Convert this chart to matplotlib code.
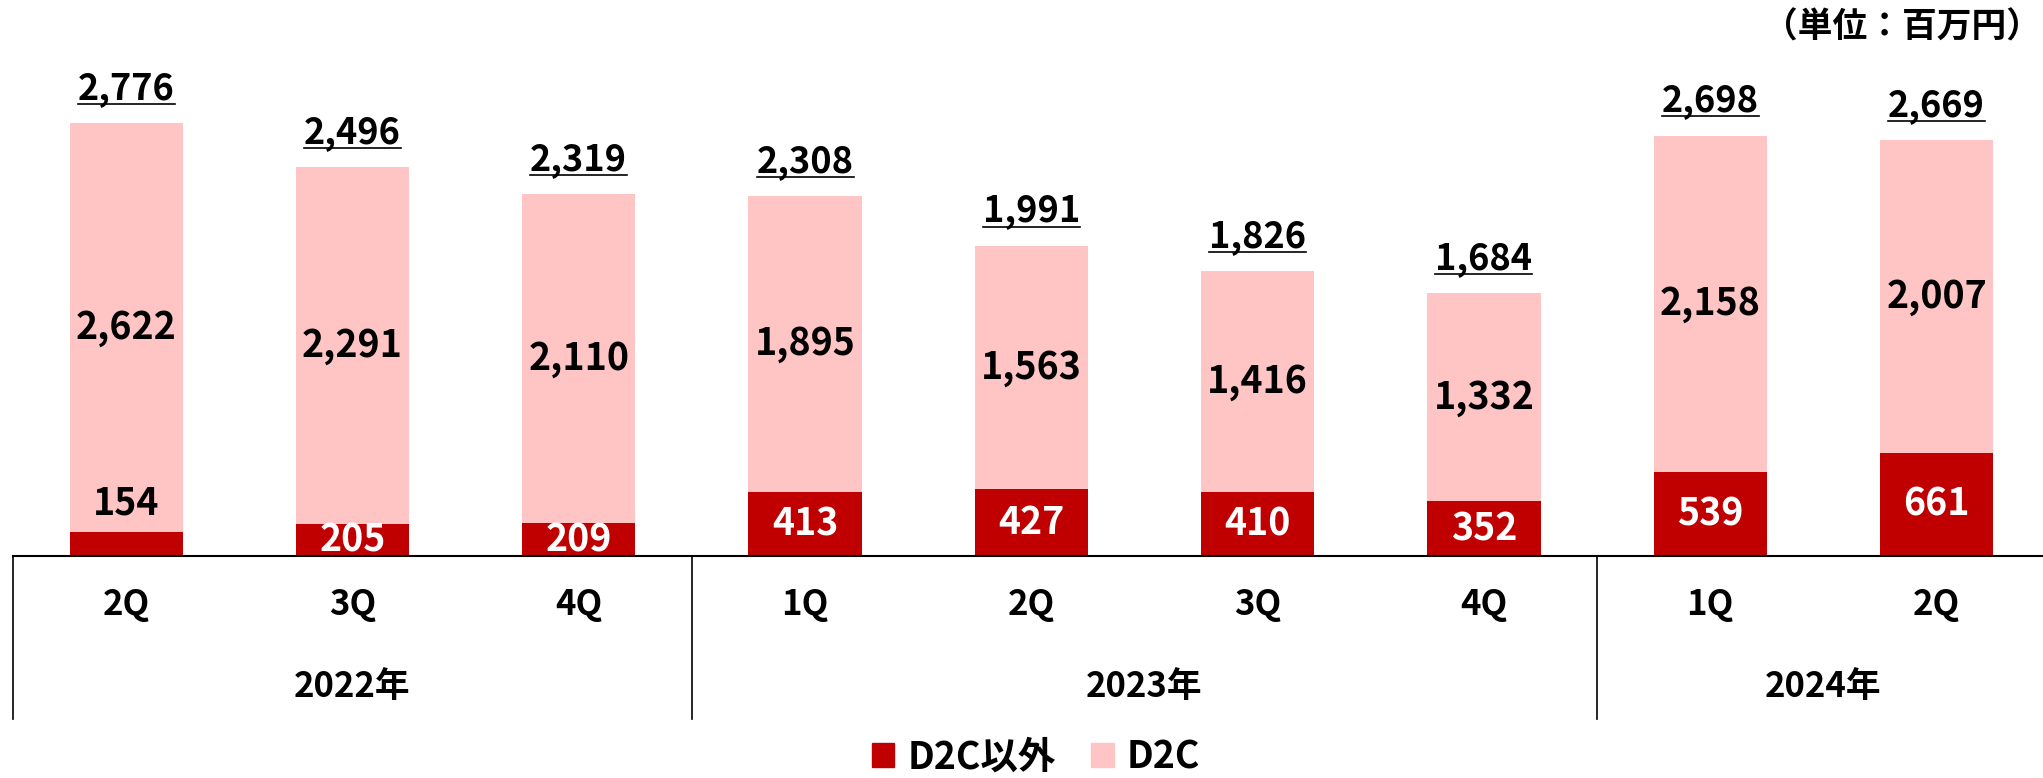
import matplotlib
matplotlib.use("Agg")
import matplotlib.pyplot as plt
import matplotlib.transforms as mtransforms
from matplotlib.lines import Line2D
from matplotlib.patches import Patch

plt.rcParams["font.family"] = ["Noto Sans CJK JP", "DejaVu Sans"]

# data (百万円)
quarters = ["2Q", "3Q", "4Q", "1Q", "2Q", "3Q", "4Q", "1Q", "2Q"]
years = ["2022年", "2023年", "2024年"]
year_counts = [3, 4, 2]
non_d2c = [154, 205, 209, 413, 427, 410, 352, 539, 661]
d2c = [2622, 2291, 2110, 1895, 1563, 1416, 1332, 2158, 2007]
totals = [2776, 2496, 2319, 2308, 1991, 1826, 1684, 2698, 2669]

RED = "#C00000"
PINK = "#FFC5C5"

W, H = 2043, 778
base_px = 556      # baseline position from the top
left_px = 13
slot_px = 226.3
px_per_unit = 0.1559


def main():
    fig = plt.figure(figsize=(W / 100, H / 100), dpi=100)
    n = len(quarters)
    ax = fig.add_axes([left_px / W, (H - base_px) / H, n * slot_px / W, base_px / H])

    x = list(range(n))
    ax.bar(x, non_d2c, width=0.5, color=RED, label="D2C以外")
    ax.bar(x, d2c, width=0.5, bottom=non_d2c, color=PINK, label="D2C")

    ax.set_xlim(-0.5, n - 0.5)
    ax.set_ylim(0, base_px / px_per_unit)
    ax.set_xticks([])
    ax.set_yticks([])
    for s in ["top", "right", "left"]:
        ax.spines[s].set_visible(False)
    ax.spines["bottom"].set_linewidth(1.5)
    ax.spines["bottom"].set_color("black")

    # segment labels
    for i in x:
        ax.text(i, non_d2c[i] + d2c[i] / 2, f"{d2c[i]:,}", ha="center", va="center",
                fontsize=27, fontweight="bold", color="black")
        if non_d2c[i] < 180:
            ax.annotate(f"{non_d2c[i]:,}", (i, non_d2c[i]), xytext=(0, 21),
                        textcoords="offset points", ha="center", va="center",
                        fontsize=27, fontweight="bold", color="black")
        else:
            ax.text(i, non_d2c[i] / 2, f"{non_d2c[i]:,}", ha="center", va="center",
                    fontsize=27, fontweight="bold", color="white")

    # totals (underlined)
    tot_texts = []
    for i in x:
        t = ax.annotate(f"{totals[i]:,}", (i, totals[i]), xytext=(0, 17.5),
                        textcoords="offset points", ha="center", va="baseline",
                        fontsize=26, fontweight="bold", color="black")
        tot_texts.append(t)

    # category axis
    trans = mtransforms.blended_transform_factory(ax.transData, ax.transAxes)
    for i, q in enumerate(quarters):
        ax.text(i, -49 / base_px, q, transform=trans, ha="center", va="center",
                fontsize=25, fontweight="bold")
    start = 0
    for yr, cnt in zip(years, year_counts):
        ax.text(start + (cnt - 1) / 2, -130 / base_px, yr, transform=trans,
                ha="center", va="center", fontsize=25, fontweight="bold")
        ax.plot([start - 0.5, start - 0.5], [0, -163 / base_px], transform=trans,
                color="black", lw=1.2, clip_on=False)
        start += cnt

    # unit label
    fig.text(0.999, 1 - 27 / H, "（単位：百万円）", ha="right", va="center",
             fontsize=25, fontweight="bold")

    # legend
    handles = [Patch(color=RED, label="D2C以外"), Patch(color=PINK, label="D2C")]
    fig.legend(handles=handles, loc="center", bbox_to_anchor=(1036 / W, 21 / H),
               ncol=2, frameon=False, handlelength=0.6, handleheight=0.6,
               handletextpad=0.35, columnspacing=0.95, borderpad=0,
               prop={"weight": "bold", "size": 27})

    # underline the totals
    fig.canvas.draw()
    renderer = fig.canvas.get_renderer()
    for i, t in enumerate(tot_texts):
        bb = t.get_window_extent(renderer)
        y = ax.transData.transform((i, totals[i]))[1] + 19
        fig.add_artist(Line2D([bb.x0 / W, bb.x1 / W], [y / H, y / H],
                              transform=fig.transFigure, color="black", lw=1.2))

    fig.savefig("out.png", dpi=100)
    plt.close(fig)


if __name__ == "__main__":
    main()
